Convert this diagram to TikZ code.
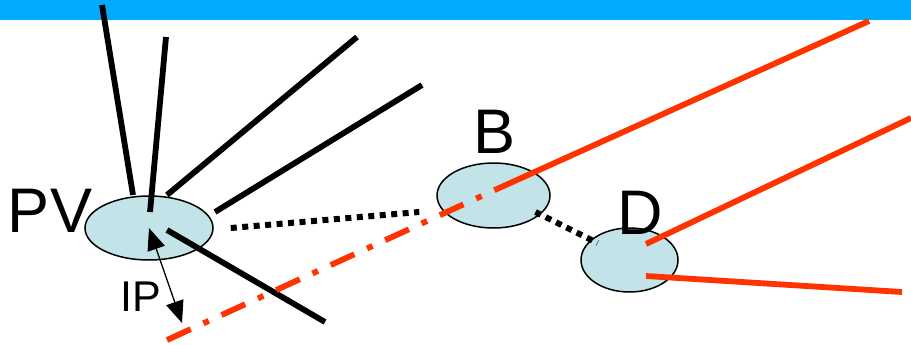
\documentclass[tikz,border=0pt]{standalone}
\usepackage{fontspec}
\setmainfont{Liberation Sans}
\usepackage{tikz}
\usetikzlibrary{arrows.meta,positioning,calc,shapes.geometric}

\definecolor{barblue}{RGB}{0,170,255}
\definecolor{vtxfill}{RGB}{194,228,232}
\definecolor{trkred}{RGB}{255,51,0}

\begin{document}
\begin{tikzpicture}[
  x=1pt, y=-1pt,
  vtx/.style={ellipse,draw,line width=1.5pt,fill=vtxfill,inner sep=0pt},
  lbl/.style={font=\fontsize{63}{63}\selectfont,anchor=base,inner sep=0pt},
  trk/.style={line width=5.8pt},
  redtrk/.style={line width=5.8pt,trkred},
  link/.style={line width=6pt,dash pattern=on 6pt off 5.5pt},
  ghost/.style={line width=5.8pt,trkred,dash pattern=on 26pt off 14pt on 6pt off 14pt},
  ar/.style={{Triangle[length=22pt,width=18pt]}-{Triangle[length=22pt,width=18pt]},line width=1.3pt}
]
\useasboundingbox (0,0) rectangle (911,345);
\fill[barblue] (0,0) rectangle (911,20);

% vertices
\node[vtx,minimum width=128pt,minimum height=64pt] (pv) at (149,228) {};
\node[vtx,minimum width=113pt,minimum height=65pt] (b) at (493.5,195.5) {};
\node[vtx,minimum width=97pt,minimum height=64pt] (d) at (629.5,260) {};

\node[lbl] (pvtxt) at (50,232) {PV};
\node[lbl] (btxt) at (495,153) {B};
\node[lbl] (dtxt) at (640.5,234) {D};
\node[lbl,font=\fontsize{43}{43}\selectfont] (iptxt) at (140.5,311) {IP};

% track ends
\coordinate (t1) at (102,5);
\coordinate (t2) at (166,37);
\coordinate (t3) at (357,37);
\coordinate (t4) at (422,85);
\coordinate (t5) at (325,322);
\coordinate (r1) at (869,21);
\coordinate (r2) at (911,118);
\coordinate (r3) at (902,292);
\coordinate (bt) at (167,340);

% tracks from PV
\draw[trk] ($(pv.center)+(-16,-33)$) -- (t1);
\draw[trk] ($(pv.center)+(1,-16)$) -- (t2);
\draw[trk] ($(pv.center)+(18,-33)$) -- (t3);
\draw[trk] ($(pv.center)+(66,-16)$) -- (t4);
\draw[trk] ($(pv.center)+(18,2)$) -- (t5);

% flight paths
\draw[link] ([xshift=17pt]pv.east) -- ([xshift=-17pt,yshift=-16.5pt]b.west);
\draw[link] ($(b.center)+(42,16.5)$) -- ($(d.center)+(-32,-17)$);

% B and D daughters
\draw[ghost] (bt) -- ($(b.center)+(3.5,-6.5)$);
\draw[redtrk] ($(b.center)+(3.5,-6.5)$) -- (r1);
\draw[redtrk] ($(d.center)+(16.5,-16)$) -- (r2);
\draw[redtrk] ($(d.center)+(16.5,16)$) -- (r3);

% impact parameter
\draw[ar] ($(pv.center)+(0,0)$) -- ($(pv.center)+(33,95)$);
\end{tikzpicture}
\end{document}
